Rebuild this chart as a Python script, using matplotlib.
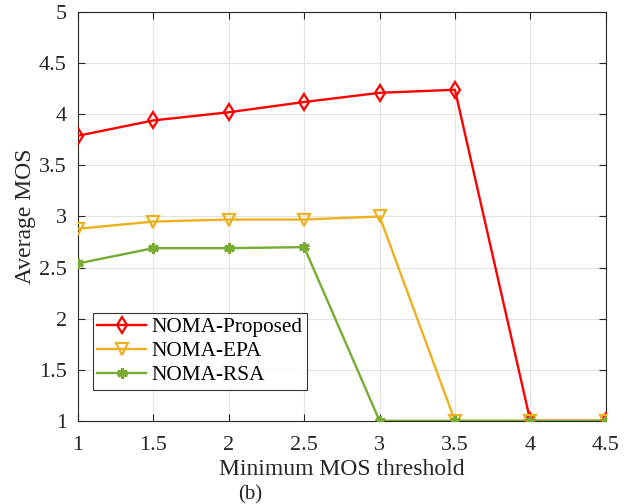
import numpy as np
import matplotlib
matplotlib.use('Agg')
import matplotlib.pyplot as plt

plt.rcParams['font.family'] = ['Liberation Serif', 'DejaVu Serif']
plt.rcParams['mathtext.fontset'] = 'stix'

# data
threshold = [1, 1.5, 2, 2.5, 3, 3.5, 4, 4.5]
mos_proposed = [3.79, 3.94, 4.02, 4.12, 4.21, 4.24, 1.0, 1.0]
mos_epa = [2.88, 2.95, 2.97, 2.97, 3.00, 1.0, 1.0, 1.0]
mos_rsa = [2.54, 2.69, 2.69, 2.70, 1.0, 1.0, 1.0, 1.0]

fig = plt.figure(figsize=(6.29, 5.04), dpi=100)
ax = fig.add_axes([0.124, 0.165, 0.839, 0.811])

ax.plot(threshold, mos_proposed, color='#FF0000', lw=1.7, marker='d',
        ms=8.5, mfc='none', mew=1.6, label='NOMA-Proposed', zorder=3)
ax.plot(threshold, mos_epa, color='#EDB120', lw=1.7, marker='v',
        ms=9, mfc='none', mew=1.6, label='NOMA-EPA', zorder=4)
ax.plot(threshold, mos_rsa, color='#77AC30', lw=1.7, marker=(6, 2, 0),
        ms=7.5, mew=2.2, label='NOMA-RSA', zorder=5)

ax.set_xlim(1, 4.5)
ax.set_ylim(1, 5)
ax.set_xticks(np.arange(1, 4.51, 0.5))
ax.set_yticks(np.arange(1, 5.01, 0.5))
ax.set_xticklabels(['1', '1.5', '2', '2.5', '3', '3.5', '4', '4.5'])
ax.set_yticklabels(['1', '1.5', '2', '2.5', '3', '3.5', '4', '4.5', '5'])
ax.grid(True, color='#E3E3E3', lw=0.8)
ax.set_axisbelow(True)
ax.tick_params(direction='in', labelsize=16, length=5, top=True, right=True,
               width=0.8, colors='#262626')
ax.tick_params(axis='x', pad=11)
ax.tick_params(axis='y', pad=8)
for s in ax.spines.values():
    s.set_linewidth(0.8)
    s.set_color('#262626')

ax.set_xlabel('Minimum MOS threshold', fontsize=17, labelpad=3,
              color='#262626')
ax.set_ylabel('Average MOS', fontsize=17, labelpad=2, color='#262626')

leg = ax.legend(loc='upper left', bbox_to_anchor=(0.028, 0.265),
                fontsize=15.3, frameon=True, fancybox=False, edgecolor='k',
                borderpad=0.22, labelspacing=0.2, handlelength=2.3,
                handletextpad=0.25, borderaxespad=0)
leg.get_frame().set_linewidth(0.8)

fig.text(0.397, 0.018, '(b)', fontsize=15, ha='center', va='center',
         color='#262626')

fig.savefig('out.png', dpi=100)
